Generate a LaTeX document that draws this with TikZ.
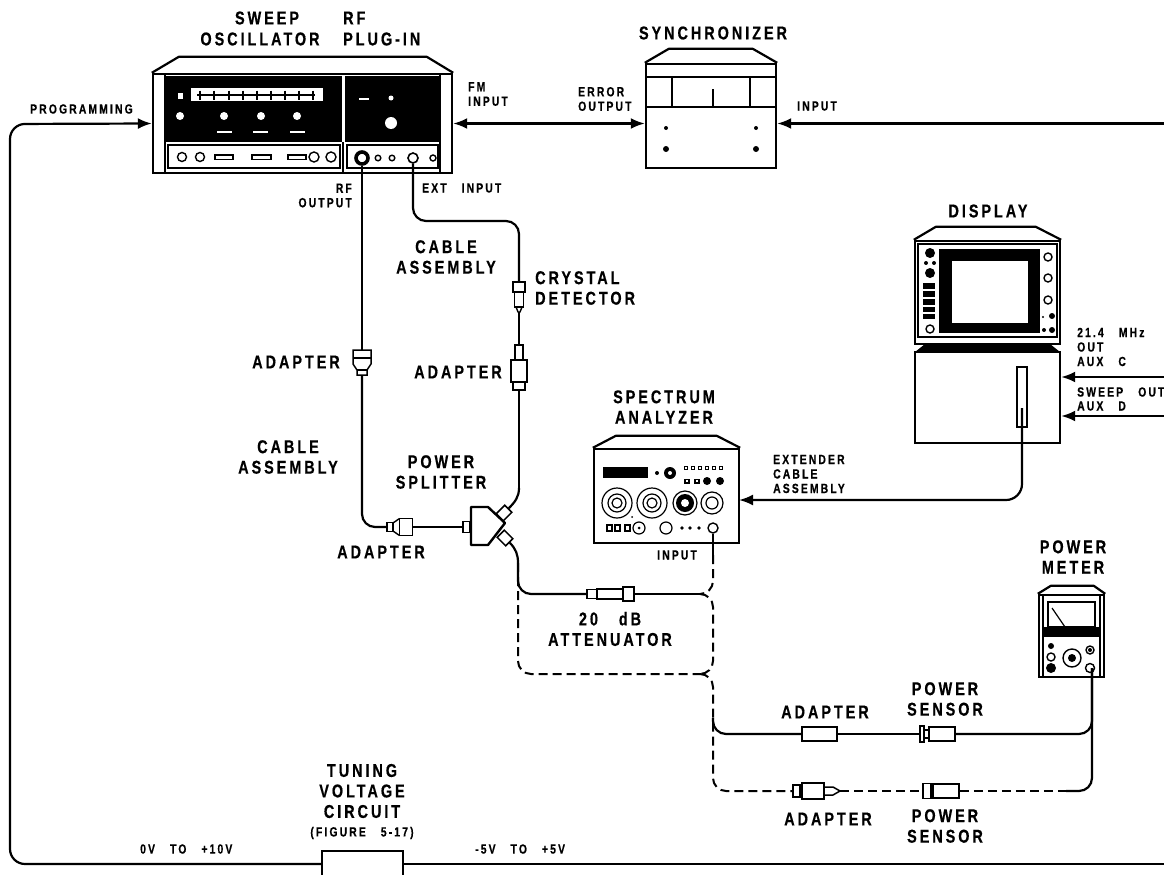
\documentclass[tikz,border=0pt]{standalone}
\usepackage{fontspec}
\setmainfont{Liberation Sans}[FakeStretch=0.78,LetterSpace=16,WordSpace=3,BoldFeatures={FakeBold=0.5}]
\usetikzlibrary{arrows.meta,calc,positioning}
\tikzset{
  biglabel/.style={font=\bfseries\fontsize{18.5}{20.5}\selectfont,align=center,inner sep=0pt},
  leftlabel/.style={biglabel,align=left,anchor=west},
  smalllabel/.style={font=\bfseries\fontsize{13.3}{14.5}\selectfont,align=left,inner sep=0pt,anchor=west},
  cable/.style={line width=2.2pt},
  dashcable/.style={line width=2pt,dash pattern=on 9pt off 5pt},
  cablebend/.style={rounded corners=13pt},
  signal/.style={line width=2.2pt,-{Latex[length=14pt,width=11pt]}},
  devbody/.style={draw,line width=2.4pt,fill=white,inner sep=0pt},
  devline/.style={line width=2.2pt,line join=round},
  plug/.style={draw,line width=1.5pt,fill=white,inner sep=0pt},
  tunebox/.style={draw,line width=2pt,fill=white,inner sep=0pt}
}
\begin{document}
\begin{tikzpicture}[x=1pt,y=-1pt]
    \useasboundingbox (0,0) rectangle (1164,875);
    % sweep oscillator and plug-in
    \node[devbody,minimum width=299pt,minimum height=99pt] (sweep) at (302.5,123.5) {};
    \draw[devline] (sweep.north west) -- ++(27,-16) -- ++(248,0) -- (sweep.north east);
    \fill[black] (165,76) rectangle (342,142);
    \fill[black] (345,76) rectangle (440,142);
    \draw[line width=1.6pt] (165,74) -- (165,173);
    \draw[line width=1.6pt] (440,74) -- (440,173);
    \draw[line width=1.6pt] (168,145) rectangle (340,168);
    \draw[line width=1.6pt] (347,145) rectangle (438,168);
    \draw[line width=1.6pt] (343,142) -- (343,173);
    \fill[white] (191,88) rectangle (323,101);
    \draw[line width=1.4pt] (197,95) -- (315,95);
    \foreach \tickx in {200,214,229,243,257,271,285,299,313}
      \draw[line width=1.4pt] (\tickx,90.5) -- (\tickx,99.5);
    \fill[white] (177.5,92.5) rectangle (182.5,98.5);
    \fill[white] (180,116) circle (4);
    \fill[white] (224,116) circle (4);
    \fill[white] (261,116) circle (4);
    \fill[white] (297,116) circle (4);
    \fill[white] (217,131) rectangle (232,133);
    \fill[white] (253,131) rectangle (268,133);
    \fill[white] (290,131) rectangle (305,133);
    \fill[white] (359,98) rectangle (369,100);
    \fill[white] (391,98) circle (2.5);
    \fill[white] (391,123) circle (6);
    \draw[line width=1.4pt] (182,157) circle (4.5);
    \draw[line width=1.4pt] (200,157) circle (4.5);
    \draw[line width=1.4pt] (215,155) rectangle (233,159.5);
    \draw[line width=1.4pt] (252,155) rectangle (271,159.5);
    \draw[line width=1.4pt] (288,155) rectangle (306,159.5);
    \draw[line width=1.4pt] (314,157) circle (5);
    \draw[line width=1.4pt] (331,157) circle (5);
    \draw[line width=1.4pt] (378,158) circle (2.8);
    \draw[line width=1.4pt] (392,158) circle (2.8);
    \draw[line width=1.4pt] (433,158) circle (3);
    \node[biglabel] (sweeplab) at (267,18) {SWEEP};
    \node[biglabel] (osclab) at (260,39) {OSCILLATOR};
    \node[leftlabel] (rflab) at (343,18) {RF};
    \node[leftlabel] (pluglab) at (343,39) {PLUG-IN};

    % synchronizer
    \node[devbody,minimum width=130pt,minimum height=104pt] (sync) at (711,116) {};
    \draw[devline] (sync.north west) -- ++(24,-14) -- ++(84,0) -- (sync.north east);
    \draw[line width=2.6pt] (646,77) -- (776,77);
    \draw[devline] (646,107) -- (776,107);
    \draw[line width=2.6pt] (672,77) -- (672,107);
    \draw[line width=2.6pt] (750,77) -- (750,107);
    \draw[line width=1.2pt] (713,89) -- (713,106);
    \fill (666,128) circle (2);
    \fill (756,128) circle (2);
    \fill (666,149) circle (3);
    \fill (756,149) circle (3);
    \node[biglabel] (synclab) at (713,33) {SYNCHRONIZER};

    % display
    \node[devbody,minimum width=145pt,minimum height=91pt] (dispbase) at (987.5,397.5) {};
    \fill (915,352) -- (925,344) -- (1050,344) -- (1060,352) -- cycle;
    \node[devbody,minimum width=145pt,minimum height=103pt] (disp) at (987.5,292.5) {};
    \draw[devline] (disp.north west) -- ++(22,-13) -- ++(100,0) -- (disp.north east);
    \draw[line width=1.2pt] (918,244) rectangle (1057,337);
    \fill (939,249) rectangle (1040,333);
    \fill[white] (952,261) rectangle (1028,323);
    \fill (930,253) circle (5);
    \fill (926,263) circle (2);
    \fill (934,263) circle (2);
    \fill (930,273) circle (5);
    \fill (923,283) rectangle (935,289);
    \fill (923,291) rectangle (935,297);
    \fill (923,299) rectangle (935,305);
    \fill (923,307) rectangle (935,312);
    \fill (923,314) rectangle (935,319);
    \draw[line width=1.4pt] (930,329) circle (4);
    \draw[line width=1.4pt] (1048,257) circle (4);
    \draw[line width=1.4pt] (1048,278) circle (4);
    \draw[line width=1.4pt] (1048,300) circle (4);
    \fill (1052,316) circle (3);
    \fill (1043,317) circle (1.2);
    \fill (1052,330) circle (3);
    \fill (1044,330) circle (2);
    \node[plug,minimum width=10pt,minimum height=60pt] (slot) at (1022,397) {};
    \coordinate (slotpin) at (1022,408);
    \node[biglabel] (displab) at (988,211) {DISPLAY};

    % spectrum analyzer
    \node[devbody,minimum width=145pt,minimum height=94pt] (spec) at (666.5,496) {};
    \draw[devline] (spec.north west) -- ++(23,-12) -- ++(101,0) -- (spec.north east);
    \fill (603,467) rectangle (648,478);
    \fill (657,473) circle (2);
    \fill (670,473) circle (6);
    \fill[white] (670,473) circle (2);
    \foreach \boxx in {686,693,700,707,714,721}
      \draw[line width=1.2pt] (\boxx-1.5,466.5) rectangle (\boxx+1.5,469.5);
    \draw[line width=1.2pt] (685,479.5) rectangle (689,483);
    \draw[line width=1.2pt] (695,479.5) rectangle (699,483);
    \fill (707,481) circle (4);
    \fill (720,481) circle (4);
    \draw[line width=1.2pt] (617,503) circle (15);
    \draw[line width=1.2pt] (617,503) circle (9);
    \draw[line width=1.2pt] (617,503) circle (5);
    \draw[line width=1.2pt] (652,503) circle (15);
    \draw[line width=1.2pt] (652,503) circle (9);
    \draw[line width=1.2pt] (652,503) circle (5);
    \draw[line width=1.2pt] (685,503) circle (12);
    \fill (685,503) circle (9);
    \fill[white] (685,503) circle (4);
    \draw[line width=1.2pt] (712,503) circle (11);
    \draw[line width=1.2pt] (712,503) circle (6);
    \draw[line width=1.2pt] (607,525) rectangle (612,531);
    \draw[line width=1.2pt] (615,525) rectangle (620,531);
    \draw[line width=1.2pt] (625,525) rectangle (630,531);
    \draw[line width=1.2pt] (639,528) circle (6);
    \fill (639,528) circle (1.5);
    \fill (632,517) circle (1);
    \draw[line width=1.2pt] (666,528) circle (6);
    \fill (682,528) circle (1.8);
    \fill (690,528) circle (1.8);
    \fill (699,528) circle (1.8);
    \node[biglabel] (speclab) at (664,407) {SPECTRUM\\ANALYZER};

    % power meter
    \node[devbody,minimum width=65pt,minimum height=82pt] (meter) at (1071.5,636) {};
    \draw[devline] (meter.north west) -- ++(13,-8) -- ++(43,0) -- (meter.north east);
    \draw[line width=1.2pt] (1043,595) -- (1043,677);
    \draw[line width=1.2pt] (1100,595) -- (1100,677);
    \draw[line width=1.2pt] (1048,602) rectangle (1095,627);
    \fill (1043,627) rectangle (1100,637);
    \draw[line width=1.2pt] (1052,608) -- (1065,627);
    \fill (1051,646) circle (3);
    \draw[line width=1.4pt] (1051,657) circle (4);
    \fill (1051,668) circle (5);
    \draw[line width=1.4pt] (1072,658) circle (9);
    \fill (1072,658) circle (4);
    \draw[line width=1.4pt] (1090,650) circle (4);
    \fill (1090,650) circle (2);
    \draw[line width=1.4pt] (1090,668) circle (4.5);
    \node[biglabel] (meterlab) at (1073,557) {POWER\\METER};

    % ports
    \node[circle,draw,line width=3.6pt,fill=white,minimum size=12pt,inner sep=0pt] (rfport) at (362,158) {};
    \node[circle,draw,line width=1.6pt,fill=white,minimum size=10pt,inner sep=0pt] (extport) at (413,158) {};
    \node[circle,draw,line width=1.4pt,fill=white,minimum size=10pt,inner sep=0pt] (specin) at (713,528) {};
    \coordinate (meterport) at (1092,668);
    \coordinate (specport) at (739,500);

    % programming and tuning loop
    \node[tunebox,minimum width=81pt,minimum height=26pt] (tuning) at (362.5,864) {};
    \coordinate (leftbend) at (10,124);
    \coordinate (rightout) at (1164,864);
    \draw[signal,rounded corners=15pt] (tuning.west) -| (leftbend) -- (sweep.west);
    \draw[cable] (tuning.east) -- (rightout);
    \node[biglabel] (tunelab) at (362,791) {TUNING\\VOLTAGE\\CIRCUIT};
    \node[smalllabel,anchor=center] (figlab) at (362,833) {(FIGURE 5-17)};
    \node[smalllabel] (lowv) at (140,849) {0V TO +10V};
    \node[smalllabel] (highv) at (475,849) {-5V TO +5V};
    \node[smalllabel] (proglab) at (30,109) {PROGRAMMING};

    % top row signals
    \coordinate (syncfeed) at (1164,123.5);
    \draw[signal,{Latex[length=14pt,width=11pt]}-{Latex[length=14pt,width=11pt]}] (sweep.east) -- (sweep.east -| sync.west);
    \draw[signal] (syncfeed) -- (syncfeed -| sync.east);
    \node[smalllabel] (fmlab) at (468,94) {FM\\INPUT};
    \node[smalllabel] (errlab) at (578,99) {ERROR\\OUTPUT};
    \node[smalllabel] (inlab) at (797,106) {INPUT};

    % display side signals
    \coordinate (auxc) at (1164,377);
    \coordinate (auxd) at (1164,416);
    \draw[signal] (auxc) -- (auxc -| dispbase.east);
    \draw[signal] (auxd) -- (auxd -| dispbase.east);
    \draw[signal,rounded corners=16pt] (slotpin) |- (specport);
    \node[smalllabel] (mhzlab) at (1077,347) {21.4 MHz\\OUT\\AUX C};
    \node[smalllabel] (sweepout) at (1077,392) {SWEEP OUT};
    \node[smalllabel] (auxdlab) at (1077,406) {AUX D};
    \node[smalllabel] (extlab) at (773,474) {EXTENDER\\CABLE\\ASSEMBLY};
    \node[smalllabel] (speclabin) at (657,555) {INPUT};
    \node[smalllabel,anchor=east,align=right] (rflabb) at (352,195.5) {RF\\OUTPUT};
    \node[smalllabel] (extin) at (422,188) {EXT INPUT};

    % left cable with adapters
    \filldraw[fill=white,line width=1.5pt] (353,350) -- (371,350) -- (371,364) -- (367,370) -- (367,375) -- (357,375) -- (357,370) -- (353,364) -- cycle;
    \draw[line width=1.4pt] (353,358) -- (371,358);
    \draw[line width=1.4pt] (357,370) -- (367,370);
    \coordinate (adaptAtop) at (362,350);
    \coordinate (adaptAbot) at (362,375);
    \draw[cable] (rfport) -- (adaptAtop);
    \node[plug,minimum width=6pt,minimum height=9pt] (adaptBsmall) at (390,527) {};
    \node[plug,minimum width=13pt,minimum height=17pt] (adaptBbig) at (406,527) {};
    \draw[line width=1.4pt] (393,523) -- (399.5,518.5);
    \draw[line width=1.4pt] (393,531) -- (399.5,535.5);
    \draw[cable,cablebend] (adaptAbot) |- (adaptBsmall.west);
    \node[plug,minimum width=7pt,minimum height=11pt] (splitin) at (466.5,527) {};
    \draw[cable] (adaptBbig.east) -- (splitin.west);
    \filldraw[fill=white,line width=2.4pt,line join=round] (471,507) -- (488,507) -- (505,523) -- (488,545) -- (471,545) -- cycle;
    \node[plug,rotate=45,minimum width=12pt,minimum height=10pt] (splitup) at (504,513) {};
    \node[plug,rotate=-45,minimum width=12pt,minimum height=10pt] (splitdown) at (505,538) {};

    % right cable with detector
    \node[plug,minimum width=12pt,minimum height=10pt] (crystal) at (519,287) {};
    \node[plug,minimum width=9pt,minimum height=15pt] (crystalbody) at (519,299.5) {};
    \coordinate (crystaltip) at (519,312);
    \draw[line width=1.4pt] (516,307) -- (518,312) -- (520,312) -- (522,307);
    \node[plug,minimum width=8pt,minimum height=15pt] (adaptCneck) at (519,352.5) {};
    \node[plug,minimum width=12pt,minimum height=8pt] (adaptClow) at (519,386) {};
    \node[plug,minimum width=16pt,minimum height=22pt] (adaptCbody) at (519,371) {};
    \coordinate (extbendA) at (413,221);
    \coordinate (extbendB) at (519,221);
    \coordinate (splitbend) at (519,488);
    \draw[cable,rounded corners=13pt] (extport) -- (extbendA) -- (extbendB) -- (crystal.north);
    \draw[cable] (crystaltip) -- (adaptCneck.north);
    \draw[cable] (adaptClow.south) -- (splitbend);
    \draw[cable] (splitup.east) to[out=45,in=-90] (splitbend);

    % attenuator branch
    \node[plug,minimum width=10pt,minimum height=9pt] (attenA) at (592,594) {};
    \node[plug,minimum width=26pt,minimum height=10pt] (attenB) at (610,594) {};
    \node[plug,minimum width=11pt,minimum height=14pt] (attenC) at (628.5,594) {};
    \coordinate (splitdrop) at (518,563);
    \coordinate (juncA) at (700,594);
    \coordinate (juncB) at (700,674);
    \coordinate (inputstub) at (713,555);
    \coordinate (busA) at (713,594);
    \coordinate (busB) at (713,674);
    \draw[cable] (splitdown.east) to[out=-45,in=90] (splitdrop);
    \draw[cable,cablebend] (splitdrop) |- (attenA.west);
    \draw[cable] (attenC.east) -- (juncA);
    \draw[cable] (specin) -- (inputstub);
    \draw[dashcable,cablebend] (inputstub) |- (juncA);
    \draw[dashcable,cablebend] (juncA) -- (busA) |- (juncB);
    \draw[dashcable,cablebend] (splitdrop) |- (juncB);

    % power sensor branches
    \node[plug,minimum width=35pt,minimum height=14pt] (adaptD) at (819.5,734) {};
    \node[plug,minimum width=4pt,minimum height=16pt] (sensorDf) at (922,734) {};
    \node[plug,minimum width=5pt,minimum height=8pt] (sensorDn) at (926.5,734) {};
    \node[plug,minimum width=26pt,minimum height=14pt] (sensorD) at (942,734) {};
    \node[plug,minimum width=7pt,minimum height=12pt] (adaptEf) at (796.5,791) {};
    \node[plug,minimum width=22pt,minimum height=16pt] (adaptE) at (813,791) {};
    \filldraw[fill=white,line width=1.5pt] (824,787) -- (833,787) -- (840,791) -- (833,795) -- (824,795) -- cycle;
    \coordinate (adaptEtip) at (840,791);
    \node[plug,minimum width=8pt,minimum height=15pt] (sensorEf) at (927,791) {};
    \node[plug,minimum width=26pt,minimum height=14pt] (sensorE) at (946,791) {};
    \coordinate (solidbend) at (713,718);
    \coordinate (dashend) at (1066,791);
    \draw[dashcable,cablebend] (juncB) -- (busB) |- (adaptEf.west);
    \draw[cable,cablebend] (solidbend) |- (adaptD.west);
    \draw[cable] (adaptD.east) -- (sensorDf.west);
    \draw[cable,cablebend] (sensorD.east) -| (meterport);
    \draw[dashcable] (adaptEtip) -- (sensorEf.west);
    \draw[dashcable] (sensorE.east) -- (dashend);
    \draw[cable,cablebend] (dashend) -| (meterport);

    % cable labels
    \node[biglabel] (cablelabA) at (446,257) {CABLE\\ASSEMBLY};
    \node[leftlabel] (crystlab) at (535,288) {CRYSTAL\\DETECTOR};
    \node[biglabel] (adaptlabA) at (296,362) {ADAPTER};
    \node[biglabel] (adaptlabB) at (458,372) {ADAPTER};
    \node[biglabel] (cablelabB) at (288,457) {CABLE\\ASSEMBLY};
    \node[biglabel] (splitlab) at (441,472) {POWER\\SPLITTER};
    \node[biglabel] (adaptlabC) at (381,552) {ADAPTER};
    \node[biglabel] (attenlab) at (610,629) {20 dB\\ATTENUATOR};
    \node[biglabel] (adaptlabD) at (825,712) {ADAPTER};
    \node[biglabel] (sensorlabA) at (945,699) {POWER\\SENSOR};
    \node[biglabel] (adaptlabE) at (828,819) {ADAPTER};
    \node[biglabel] (sensorlabB) at (945,826) {POWER\\SENSOR};
\end{tikzpicture}
\end{document}
